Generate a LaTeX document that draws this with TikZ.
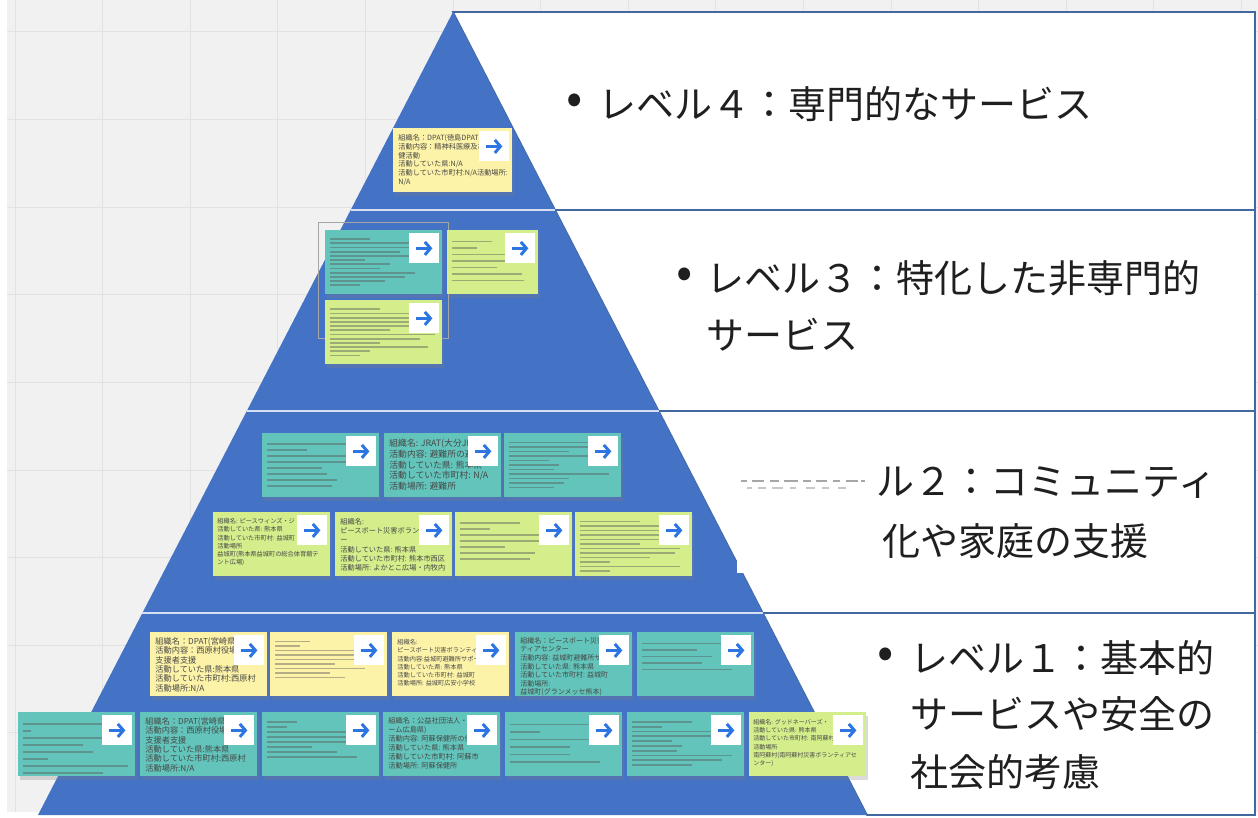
\documentclass[tikz,border=0pt]{standalone}
\usepackage{fontspec}
\setmainfont{Noto Sans CJK JP}
\usetikzlibrary{arrows.meta,calc,shadows,positioning}

\definecolor{pyrblue}{RGB}{68,114,196}
\definecolor{panelline}{RGB}{66,104,160}
\definecolor{noteteal}{RGB}{98,196,186}
\definecolor{notegreen}{RGB}{212,238,140}
\definecolor{noteyellow}{RGB}{253,243,168}
\definecolor{arrowblue}{RGB}{45,118,225}
\definecolor{boardgray}{RGB}{241,241,241}
\definecolor{gridgray}{RGB}{226,226,226}
\definecolor{printgray}{RGB}{90,90,90}

\begin{document}
\begin{tikzpicture}[
  x=0.5pt, y=-0.5pt,
  note/.style={
    anchor=north west,
    inner sep=0,
    minimum height=32pt,
    drop shadow={shadow xshift=0.6pt, shadow yshift=-1.8pt, opacity=.28}
    },
  arrowbox/.style={anchor=north east, fill=white, inner sep=0, minimum size=15pt},
  arrowline/.style={draw=arrowblue, line width=1.5pt, -{Straight Barb[length=2.8pt,width=6.5pt]}},
  notetext/.style={anchor=north west, inner sep=0, align=left, text=black!72},
  scrib/.style={draw=printgray, draw opacity=.45, line width=0.9pt, line cap=butt},
  lvltext/.style={anchor=west, inner sep=0, font=\fontsize{19}{23}\selectfont, text=black!88},
  panel/.style={draw=panelline, line width=0.8pt, fill=white},
  sep/.style={draw=white!78!pyrblue, line width=1pt}
]
\useasboundingbox (0,0) rectangle (1258,818);
\fill[white] (0,0) rectangle (1258,818);

% board and grid
\fill[boardgray] (7,0) rectangle (1258,812);
\foreach \gx in {0,...,14}
  \draw[gridgray, line width=0.5pt] ({15+87.6*\gx},0) -- ({15+87.6*\gx},812);
\foreach \gy in {0,...,8}
  \draw[gridgray, line width=0.5pt] (7,{32+87.6*\gy}) -- (1258,{32+87.6*\gy});

% pyramid corners and level edges
\coordinate (apex) at (453,12);
\coordinate (bl) at (38,815);
\coordinate (br) at (867,815);
\foreach \yy/\nm in {210/a,411/b,613/c} {
  \coordinate (R\nm) at ($(apex)!{(\yy-12)/803}!(br)$);
  \coordinate (L\nm) at ($(apex)!{(\yy-12)/803}!(bl)$);
}

% panels on the right
\draw[panel] (apex) -- (1255,12) -- (1255,210) -- (Ra) -- cycle;
\draw[panel] (Ra) -- (1255,210) -- (1255,411) -- (Rb) -- cycle;
\draw[panel] (Rb) -- (1255,411) -- (1255,613) -- (Rc) -- cycle;
\draw[panel] (Rc) -- (1255,613) -- (1255,815) -- (br) -- cycle;

% pyramid
\fill[pyrblue] (apex) -- (br) -- (bl) -- cycle;
\foreach \nm in {a,b,c}
  \draw[sep] (L\nm) -- (R\nm);

% patch over level 2 label
\fill[white] (737,458) rectangle (872,573);
\foreach \gx/\gl in {741/6,752/12,770/9,784/14,803/8,816/11,833/7,846/12,861/4}
  \draw[black!35, line width=0.8pt] (\gx,481) -- ++(\gl,0);
\foreach \gx/\gl in {747/5,758/8,772/11,790/6,806/9,822/7,838/8}
  \draw[black!22, line width=0.6pt] (\gx,488) -- ++(\gl,0);

% selection frame
\draw[black!35, line width=0.4pt] (318,222) rectangle (448,338);

% sticky notes
\foreach \nx/\ny/\nw/\nc [count=\ni] in {
  393/128/119/noteyellow,
  325/230/117/noteteal, 447/230/91/notegreen, 325/300/117/notegreen,
  262/433/117/noteteal, 384/433/117/noteteal, 504/433/117/noteteal,
  213/512/117/notegreen, 335/512/117/notegreen, 455/512/117/notegreen, 575/512/117/notegreen,
  150/632/117/noteyellow, 270/632/117/noteyellow, 392/632/117/noteyellow,
  515/632/117/noteteal, 637/632/117/noteteal,
  18/712/117/noteteal, 140/712/117/noteteal, 262/712/117/noteteal, 383/712/117/noteteal,
  505/712/117/noteteal, 627/712/117/noteteal, 749/712/117/notegreen}
  \node[note, fill=\nc, minimum width={\nw*0.5pt}] (note\ni) at (\nx,\ny) {};

% notes with readable text
\node[notetext, font=\fontsize{3.6}{4.4}\selectfont] (txt1) at ($(note1.north west)+(5,6)$)
  {組織名：DPAT(徳島DPAT\\活動内容：精神科医療及び保\\健活動\\活動していた県:N/A\\活動していた市町村:N/A活動場所:\\N/A};
\node[notetext, font=\fontsize{4.4}{5.3}\selectfont] (txt6) at ($(note6.north west)+(5,6)$)
  {組織名: JRAT(大分JRAT G\\活動内容: 避難所の避難\\活動していた県: 熊本県\\活動していた市町村: N/A\\活動場所: 避難所};
\node[notetext, font=\fontsize{3.1}{4.1}\selectfont] (txt8) at ($(note8.north west)+(4,6)$)
  {組織名: ピースウィンズ・ジ\\活動していた県: 熊本県\\活動していた市町村: 益城町\\活動場所\\益城町(熊本県益城町の総合体育館テ\\ント広場)};
\node[notetext, font=\fontsize{3.6}{4.6}\selectfont] (txt9) at ($(note9.north west)+(5,6)$)
  {組織名:\\ピースボート災害ボランティ\\ー\\活動していた県: 熊本県\\活動していた市町村: 熊本市西区\\活動場所: よかとこ広場・内牧内};
\node[notetext, font=\fontsize{4.1}{4.7}\selectfont] (txt12) at ($(note12.north west)+(5,5)$)
  {組織名：DPAT(宮崎県D\\活動内容：西原村役場精\\支援者支援\\活動していた県:熊本県\\活動していた市町村:西原村\\活動場所:N/A};
\node[notetext, font=\fontsize{3.1}{4.1}\selectfont] (txt14) at ($(note14.north west)+(5,7)$)
  {組織名:\\ピースボート災害ボランティア\\活動内容:益城町避難所サポート\\活動していた県: 熊本県\\活動していた市町村: 益城町\\活動場所: 益城町広安小学校};
\node[notetext, font=\fontsize{3.5}{4.3}\selectfont] (txt15) at ($(note15.north west)+(5,5)$)
  {組織名：ピースボート災害\\ティアセンター\\活動内容: 益城町避難所サポ\\活動していた県: 熊本県\\活動していた市町村: 益城町\\活動場所:\\益城町(グランメッセ熊本)};
\node[notetext, font=\fontsize{4.1}{4.7}\selectfont] (txt18) at ($(note18.north west)+(5,5)$)
  {組織名：DPAT(宮崎県D\\活動内容：西原村役場精\\支援者支援\\活動していた県:熊本県\\活動していた市町村:西原村\\活動場所:N/A};
\node[notetext, font=\fontsize{3.6}{4.5}\selectfont] (txt20) at ($(note20.north west)+(5,5)$)
  {組織名：公益社団法人・(チ\\ーム広島県)\\活動内容: 阿蘇保健所の保\\活動していた県: 熊本県\\活動していた市町村: 阿蘇市\\活動場所: 阿蘇保健所};
\node[notetext, font=\fontsize{3}{4.1}\selectfont] (txt23) at ($(note23.north west)+(4,7)$)
  {組織名: グッドネーバーズ・\\活動していた県: 熊本県\\活動していた市町村: 南阿蘇村\\活動場所\\南阿蘇村(南阿蘇村災害ボランティアセ\\ンター)};

% notes with unreadable small print
\foreach \i/\sp/\lens in {
  2/4.2/{40,95,105,70,100,35,60,50,85,75,55,30},
  3/6.5/{40,25,80,82,45,70,72},
  4/4.2/{50,105,100,80,95,60,105,90,50,98,40,30},
  5/6/{95,40,100,100,55,60,70,65},
  7/4.5/{80,105,60,90,40,50,45,100,60,55,45},
  10/6/{60,30,95,100,45,75,70},
  11/4.5/{60,104,100,90,106,60,100,95,70,30,100,30},
  13/4.5/{35,25,105,100,95,60,90,55,70},
  16/6.5/{100,55,70,60,90},
  17/7/{105,8,100,60,70,25,105,80},
  19/5/{30,20,100,95,80,45,70,90},
  21/7.5/{80,30,95,60,60,90},
  22/4.8/{60,30,100,95,40,50,45,100,90,60}}
{
  \foreach \ln [count=\k] in \lens
    \draw[scrib] ($(note\i.north west)+(5,5+\k*\sp)$) -- ++(\ln,0);
}

% arrow buttons
\foreach \ni in {1,...,23} {
  \node[arrowbox] (arr\ni) at ($(note\ni.north east)+(-3,3)$) {};
  \draw[arrowline] ($(arr\ni.center)+(-8,0)$) -- ($(arr\ni.center)+(8,0)$);
}

% level labels
\node[lvltext, font=\fontsize{24}{24}\selectfont] (dot4) at (566,104) {•};
\node[lvltext] (lv4) at (598,104) {レベル４：専門的なサービス};
\node[lvltext, font=\fontsize{24}{24}\selectfont] (dot3) at (676,278) {•};
\node[lvltext] (lv3a) at (706,278) {レベル３：特化した非専門的};
\node[lvltext] (lv3b) at (706,335) {サービス};
\node[lvltext] (lv2a) at (876,483) {ル２：コミュニティ};
\node[lvltext] (lv2b) at (882,541) {化や家庭の支援};
\node[lvltext, font=\fontsize{24}{24}\selectfont] (dot1) at (877,658) {•};
\node[lvltext] (lv1a) at (910,658) {レベル１：基本的};
\node[lvltext] (lv1b) at (910,714) {サービスや安全の};
\node[lvltext] (lv1c) at (910,772) {社会的考慮};

\end{tikzpicture}
\end{document}
